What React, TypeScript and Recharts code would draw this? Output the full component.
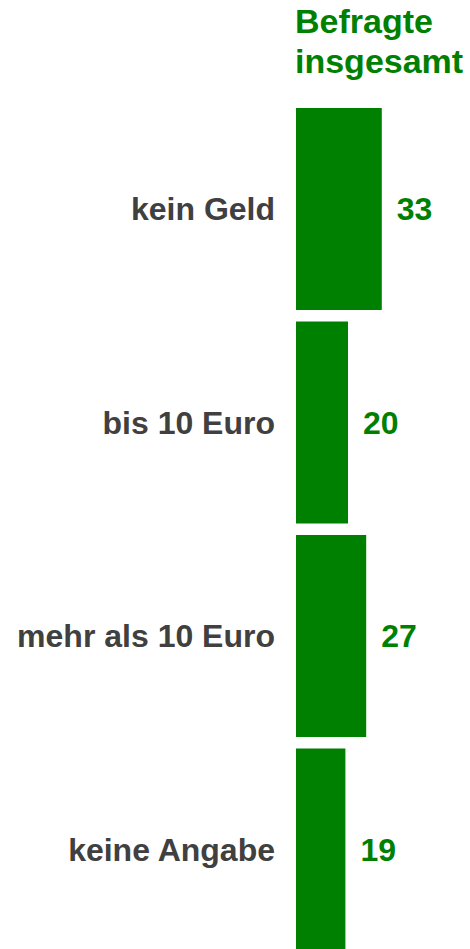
import { Bar, BarChart, LabelList, XAxis, YAxis } from 'recharts';

const categories = ['kein Geld', 'bis 10 Euro', 'mehr als 10 Euro', 'keine Angabe'];
const values = [33, 20, 27, 19];
const seriesTitle = ['Befragte', 'insgesamt'];

const GREEN = '#008000';
const FONT = '"Liberation Sans", Arial, sans-serif';

const data = categories.map((name, i) => ({ name, value: values[i] }));

export default function App() {
  return (
    <div style={{ position: 'absolute', left: 0, top: 0, width: 470, height: 949, overflow: 'hidden', background: '#fff', fontFamily: FONT }}>
      <div
        style={{
          position: 'absolute',
          left: 295,
          top: 1,
          color: GREEN,
          fontWeight: 700,
          fontSize: 34,
          lineHeight: '40px',
          whiteSpace: 'nowrap',
        }}
      >
        {seriesTitle.map(t => (
          <div key={t}>{t}</div>
        ))}
      </div>
      <BarChart
        width={470}
        height={960}
        data={data}
        layout="vertical"
        margin={{ top: 102, right: 18, left: 0, bottom: 4 }}
      >
        <XAxis type="number" domain={[0, 60]} hide />
        <YAxis
          type="category"
          dataKey="name"
          width={296}
          axisLine={false}
          tickLine={false}
          tickSize={0}
          tickMargin={21}
          tick={{ fill: '#404040', fontSize: 32, fontWeight: 700, fontFamily: FONT }}
        />
        <Bar dataKey="value" fill={GREEN} barSize={202} isAnimationActive={false}>
          <LabelList
            dataKey="value"
            position="right"
            offset={15}
            fill={GREEN}
            style={{ fontSize: 32, fontWeight: 700, fontFamily: FONT }}
          />
        </Bar>
      </BarChart>
    </div>
  );
}
